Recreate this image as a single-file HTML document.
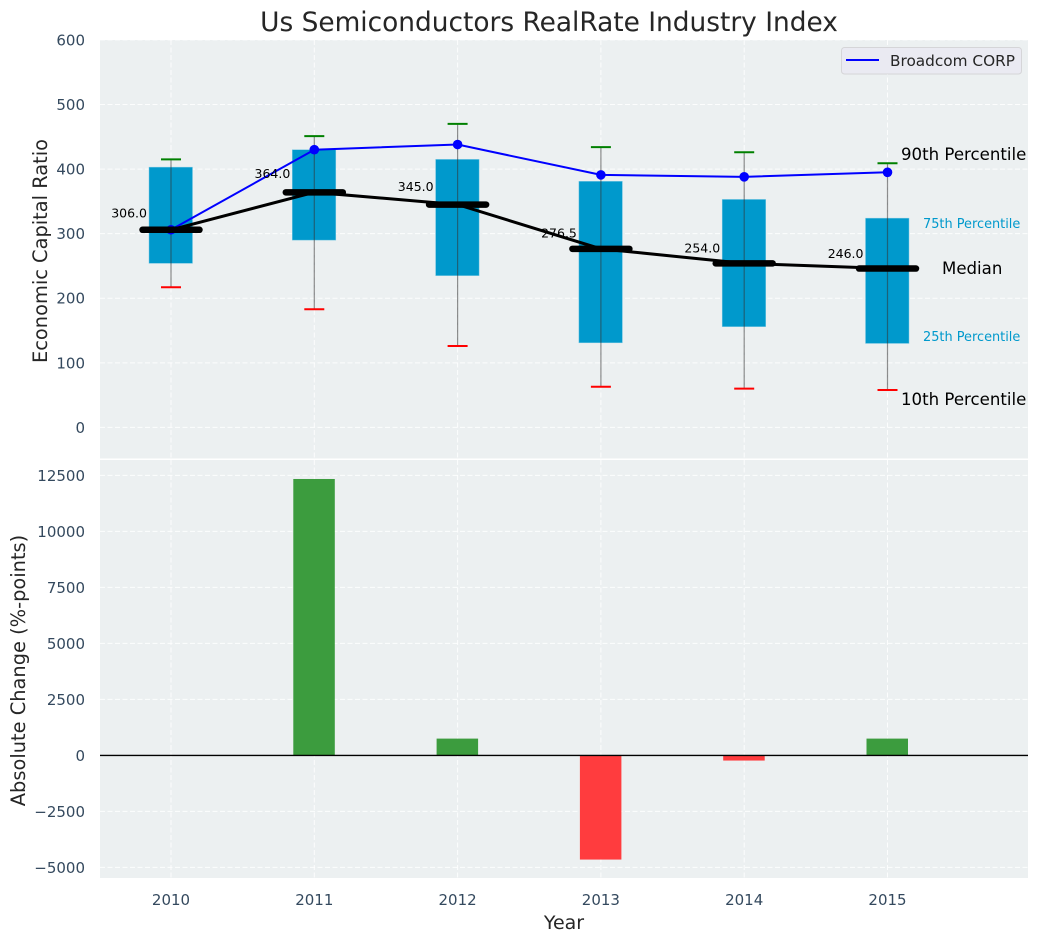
<!DOCTYPE html>
<html>
<head>
<meta charset="utf-8">
<style>
html,body{margin:0;padding:0;background:#fff;width:1039px;height:942px;overflow:hidden}
svg{display:block}
text{font-family:"DejaVu Sans","Liberation Sans",sans-serif}
</style>
</head>
<body>
<svg id="chart" xmlns="http://www.w3.org/2000/svg" width="1039" height="942" viewBox="0 0 1039 942">
<rect x="100" y="40" width="928" height="418.5" fill="#ecf0f1"/>
<rect x="100" y="460" width="928" height="418" fill="#ecf0f1"/>
<g id="grid"></g>
<g id="bars"></g>
<g id="boxes"></g>
<g id="series"></g>
<g id="labels"></g>
<g id="ticks"></g>
<text x="549" y="31" font-size="26.4" text-anchor="middle" fill="#262626">Us Semiconductors RealRate Industry Index</text>
<text transform="translate(47,251) rotate(-90)" font-size="19.4" text-anchor="middle" fill="#262626">Economic Capital Ratio</text>
<text transform="translate(25,670.5) rotate(-90)" font-size="19.4" text-anchor="middle" fill="#262626">Absolute Change (%-points)</text>
<text x="564" y="929" font-size="19" text-anchor="middle" fill="#262626">Year</text>
<text x="901" y="160" font-size="16.6" fill="#000">90th Percentile</text>
<text x="923" y="228" font-size="12.9" fill="#0099cc">75th Percentile</text>
<text x="942" y="274" font-size="16.6" fill="#000">Median</text>
<text x="923" y="341" font-size="12.9" fill="#0099cc">25th Percentile</text>
<text x="901" y="405" font-size="16.6" fill="#000">10th Percentile</text>
<g>
<rect x="841.5" y="47.5" width="180" height="26.5" rx="3" fill="#eaeaf2" stroke="#d5d5d8" stroke-width="1"/>
<line x1="846" y1="60" x2="879" y2="60" stroke="#0000ff" stroke-width="2"/>
<text x="890" y="66" font-size="15.3" fill="#262626">Broadcom CORP</text>
</g>
</svg>
<script>
var years = [2010, 2011, 2012, 2013, 2014, 2015];
var p90 = [415, 451, 470, 434, 426, 409];
var p75 = [403, 430, 415, 381, 353, 324];
var median = [306, 364, 345, 276.5, 254, 246];
var p25 = [254, 290, 235, 131, 156, 130];
var p10 = [217, 183, 126, 63, 60, 58];
var broadcom = [306, 430, 438, 391, 388, 395];
var changes = [0, 12340, 750, -4650, -230, 750];
var topTicks = [0, 100, 200, 300, 400, 500, 600];
var bottomTicks = [-5000, -2500, 0, 2500, 5000, 7500, 10000, 12500];

var NS = 'http://www.w3.org/2000/svg';
function xScale(v) { return 171 + (v - 2010) * 143.3; }
function yTop(v) { return 427.4 - v * 0.6458; }
function yBottom(v) { return 755.4 - v * 0.02240; }
function make(parent, tag, props, text) {
  var el = document.createElementNS(NS, tag);
  for (var k in props) el.setAttribute(k, props[k]);
  if (text !== undefined) el.textContent = text;
  document.getElementById(parent).appendChild(el);
  return el;
}
var el, i, x;
var gridDash = '5 2.5';

years.forEach(function (yr) {
  x = xScale(yr);
  el = make('grid', 'line', {x1: x, x2: x, y1: 40, y2: 458.5, stroke: '#fff', 'stroke-width': 1, 'stroke-dasharray': gridDash, 'stroke-opacity': 0.85});
  
  
  el = make('grid', 'line', {x1: x, x2: x, y1: 460, y2: 878, stroke: '#fff', 'stroke-width': 1, 'stroke-dasharray': gridDash, 'stroke-opacity': 0.85});
  
  
  el = make('ticks', 'text', {x: x, y: 905, 'font-size': 15, 'text-anchor': 'middle', fill: '#34495e'}, String(yr));
  
  
});

topTicks.forEach(function (t) {
  var y = yTop(t);
  el = make('grid', 'line', {x1: 100, x2: 1028, y1: y, y2: y, stroke: '#fff', 'stroke-width': 1, 'stroke-dasharray': gridDash, 'stroke-opacity': 0.85});
  
  
  el = make('ticks', 'text', {x: 85, y: y + 5.5, 'font-size': 15, 'text-anchor': 'end', fill: '#34495e'}, String(t));
  
  
});

bottomTicks.forEach(function (t) {
  var y = yBottom(t);
  el = make('grid', 'line', {x1: 100, x2: 1028, y1: y, y2: y, stroke: '#fff', 'stroke-width': 1, 'stroke-dasharray': gridDash, 'stroke-opacity': 0.85});
  
  
  el = make('ticks', 'text', {x: 85, y: y + 5.5, 'font-size': 15, 'text-anchor': 'end', fill: '#34495e'}, (t < 0 ? '\u2212' + Math.abs(t) : String(t)));
  
  
});

for (i = 0; i < years.length; i++) {
  x = xScale(years[i]);
  var y0 = yBottom(0), yv = yBottom(changes[i]);
  el = make('bars', 'rect', {x: x - 21, y: Math.min(y0, yv), width: 41.5, height: Math.abs(yv - y0), fill: changes[i] >= 0 ? '#3c9c3e' : '#ff3c3e'});
  
  
}
el = make('bars', 'line', {x1: 100, x2: 1028, y1: yBottom(0), y2: yBottom(0), stroke: '#000', 'stroke-width': 1.4});



for (i = 0; i < years.length; i++) {
  x = xScale(years[i]);
  el = make('boxes', 'rect', {x: x - 22, y: yTop(p75[i]), width: 43.5, height: yTop(p25[i]) - yTop(p75[i]), fill: '#0099cc', stroke: '#7cc9e3', 'stroke-width': 0.5});
  
  
  el = make('boxes', 'line', {x1: x, x2: x, y1: yTop(p90[i]), y2: yTop(p10[i]), stroke: '#333', 'stroke-width': 1.2, 'stroke-opacity': 0.55});
  
  
  el = make('boxes', 'line', {x1: x - 10, x2: x + 10, y1: yTop(p90[i]), y2: yTop(p90[i]), stroke: '#008000', 'stroke-width': 2});
  
  
  el = make('boxes', 'line', {x1: x - 10, x2: x + 10, y1: yTop(p10[i]), y2: yTop(p10[i]), stroke: '#ff0000', 'stroke-width': 2});
  
  
}

function pts(arr) {
  return arr.map(function (v, j) { return xScale(years[j]) + ',' + yTop(v); }).join(' ');
}
el = make('series', 'polyline', {points: pts(broadcom), fill: 'none', stroke: '#0000ff', 'stroke-width': 2});


for (i = 0; i < years.length; i++) {
  el = make('series', 'circle', {cx: xScale(years[i]), cy: yTop(broadcom[i]), r: 4.8, fill: '#0000ff'});
  
  
}
el = make('series', 'polyline', {points: pts(median), fill: 'none', stroke: '#000', 'stroke-width': 3});


for (i = 0; i < years.length; i++) {
  x = xScale(years[i]);
  el = make('series', 'line', {x1: x - 28.5, x2: x + 28.5, y1: yTop(median[i]), y2: yTop(median[i]), stroke: '#000', 'stroke-width': 6.5, 'stroke-linecap': 'round'});
  
  
  el = make('labels', 'text', {x: x - 24, y: yTop(median[i]) - 11.5 - (median[i] - 276.5) * 0.03, 'font-size': 12.5, 'text-anchor': 'end', fill: '#000'}, median[i].toFixed(1));
  
  
}
</script>
</body>
</html>
